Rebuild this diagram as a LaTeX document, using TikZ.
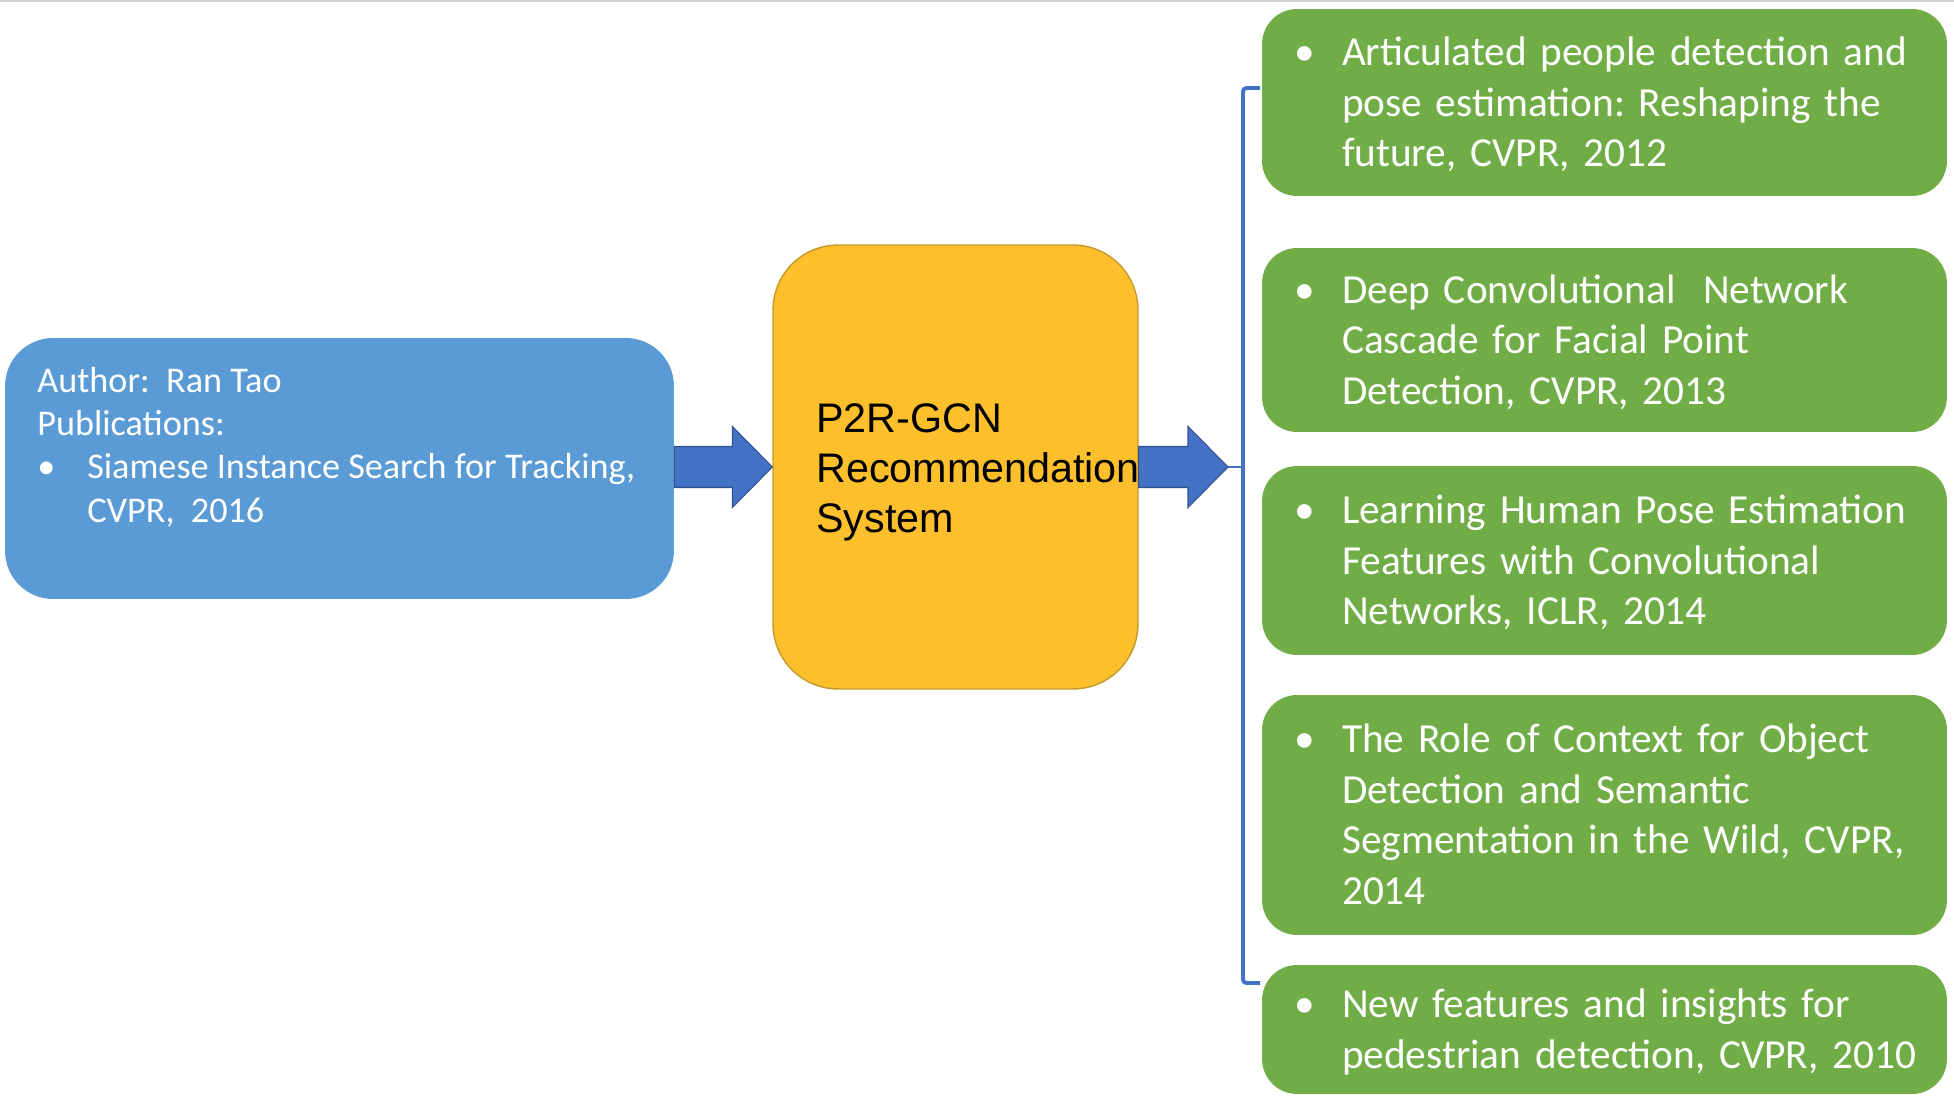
\documentclass[tikz,border=0pt]{standalone}
\usepackage{fontspec}
\setmainfont{Carlito}
\newfontfamily\arialfont{Liberation Sans}
\usetikzlibrary{calc}
\frenchspacing

\definecolor{authblue}{HTML}{5B9BD5}
\definecolor{pubgreen}{HTML}{70AD47}
\definecolor{sysyellow}{HTML}{FEBF2C}
\definecolor{sysedge}{HTML}{C49A2A}
\definecolor{arrblue}{HTML}{4472C4}
\definecolor{arredge}{HTML}{2F528F}

\newlength{\bulw}\setlength{\bulw}{0.96cm}
\newcommand{\pub}[1]{\raisebox{0pt}[\dimexpr\height+0.14cm\relax][\depth]{\begin{tabular}{@{}p{\bulw}@{}l@{}}\textbullet & \begin{tabular}[t]{@{}l@{}}#1\end{tabular}\end{tabular}}}
\newcommand{\blockarrow}[2]{%
  \draw[blockarr] ($(#1)+(0,-20.5)$) -- ($(#2)+(-40,-20.5)$) -- ($(#2)+(-40,-40.5)$) -- (#2)
    -- ($(#2)+(-40,40.5)$) -- ($(#2)+(-40,20.5)$) -- ($(#1)+(0,20.5)$) -- cycle;}

\begin{document}
\begin{tikzpicture}[x=0.02cm,y=-0.02cm,
  authbox/.style={fill=authblue, rounded corners=0.96cm, minimum width=13.38cm, minimum height=5.22cm},
  authtext/.style={text=white, align=left, inner sep=0pt, font=\fontsize{20.6}{24.6}\selectfont},
  sysbox/.style={fill=sysyellow, draw=sysedge, line width=0.8pt, rounded corners=1.3cm, minimum width=7.3cm, minimum height=8.88cm},
  systext/.style={align=left, inner sep=0pt, font=\arialfont\fontsize{23.5}{28.45}\selectfont},
  pubbox/.style={fill=pubgreen, rounded corners=0.7cm, text=white, minimum width=13.7cm, inner xsep=0.64cm, inner ysep=0pt, text width=12.42cm, align=left, font=\fontsize{23.5}{28.7}\selectfont},
  blockarr/.style={fill=arrblue, draw=arredge, line width=0.6pt},
  bracket/.style={draw=arrblue, line width=2.2pt, rounded corners=2pt},
  topline/.style={draw=black!18, line width=1.5pt}]
\useasboundingbox (0,0) rectangle (1954,1104);
\draw[topline] (0,1) -- (1954,1);

\node[authbox] at (339.5,468.5) (author) {};
\node[authtext, anchor=north west] at (37,367) (authtxt) {Author:~ Ran Tao\\
Publications:\\
\makebox[1.0cm][l]{\textbullet}Siamese Instance Search for Tracking,\\
\hspace*{1.0cm}CVPR,~ 2016};

\node[sysbox] at (955.5,467) (sys) {};
\node[systext, anchor=west] at (816,472) (systxt) {P2R-GCN\\Recommendation\\System};

\node[pubbox, minimum height=3.74cm] at (1604.5,102.5) (pubA) {\pub{Articulated people detection and\\pose estimation: Reshaping the\\future, CVPR, 2012}};
\node[pubbox, minimum height=3.68cm] at (1604.5,340) (pubB) {\pub{Deep Convolutional~ Network\\Cascade for Facial Point\\Detection, CVPR, 2013}};
\node[pubbox, minimum height=3.78cm] at (1604.5,560.5) (pubC) {\pub{Learning Human Pose Estimation\\Features with Convolutional\\Networks, ICLR, 2014}};
\node[pubbox, minimum height=4.8cm] at (1604.5,815) (pubD) {\pub{The Role of Context for Object\\Detection and Semantic\\Segmentation in the Wild, CVPR,\\2014}};
\node[pubbox, minimum height=2.58cm] at (1604.5,1029.5) (pubE) {\pub{New features and insights for\\pedestrian detection, CVPR, 2010}};

\coordinate (tip) at (1228,467);
\coordinate (brmid) at (1243,467);
\coordinate (brtop) at (1260,88);
\coordinate (brbot) at (1260,983);

\blockarrow{author.east |- sys.west}{sys.west}
\blockarrow{sys.east}{tip}
\draw[bracket] (brtop) -- (brtop -| brmid) -- (brbot -| brmid) -- (brbot);
\draw[draw=arrblue, line width=1pt] (tip) -- (brmid);

\end{tikzpicture}
\end{document}
